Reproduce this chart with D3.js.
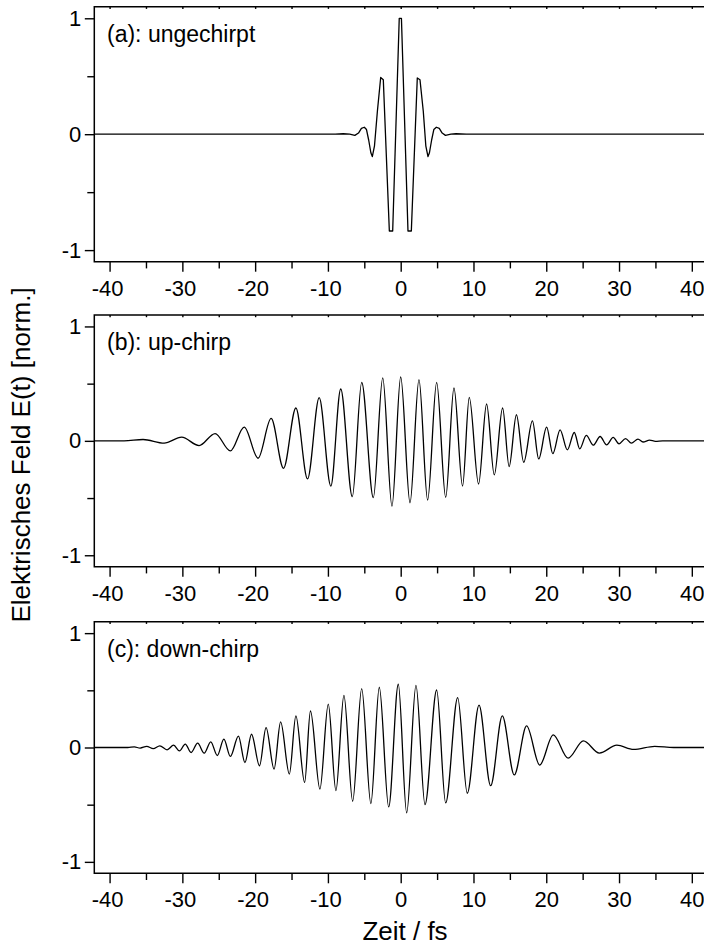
<!DOCTYPE html>
<html><head><meta charset="utf-8">
<script src="https://cdn.jsdelivr.net/npm/d3@7"></script>
<style>
body{margin:0;background:#fff}
svg{display:block}
text{font-family:"Liberation Sans",Arial,Helvetica,sans-serif;fill:#000}
</style>
</head><body>
<svg id="chart" width="704" height="947"></svg>
<script>
// ---------- data ----------
const panelLabels = ["(a): ungechirpt", "(b): up-chirp", "(c): down-chirp"];
const xTickValues = [-40, -30, -20, -10, 0, 10, 20, 30, 40];
const xMinorValues = [-35, -25, -15, -5, 5, 15, 25, 35];
const yTickValues = [-1, 0, 1];
const yMinorValues = [-0.5, 0.5];
const xTitle = "Zeit / fs";
const yTitle = "Elektrisches Feld E(t) [norm.]";

// (a) unchirped pulse: sampled points (fs, norm.)
const tA = [-42.1, -9, -7.9, -7.0, -6.3, -5.8, -5.4, -5.0, -4.7, -4.4, -4.1, -3.9, -3.6, -3.2, -2.75, -2.39, -1.56, -1.1, -0.2, 0.1, 1.0, 1.46, 2.28, 2.65, 3.1, 3.45, 3.75, 3.95, 4.25, 4.55, 4.9, 5.3, 5.7, 6.15, 6.9, 7.6, 9, 42.1];
const eA = [0, 0, 0.004, 0, -0.01, 0.01, 0.05, 0.06, 0.04, -0.05, -0.16, -0.193, -0.1, 0.2, 0.489, 0.469, -0.835, -0.835, 1.0, 1.0, -0.835, -0.835, 0.485, 0.47, 0.2, -0.1, -0.193, -0.16, -0.05, 0.04, 0.06, 0.05, 0.01, -0.01, 0, 0.004, 0, 0];

// (b) up-chirp: extrema (fs, norm.)
const tB = [-42.1, -38, -35.4, -32.5, -30.1, -27.7, -25.5, -23.4, -21.5, -19.6, -17.8, -16.1, -14.4, -12.8, -11.2, -9.6, -8.24, -6.65, -5.36, -3.76, -2.47, -1.2, 0, 1.28, 2.51, 3.7, 4.94, 6.18, 7.32, 8.5, 9.42, 10.7, 11.8, 12.86, 14.0, 14.9, 15.9, 16.9, 18.1, 18.96, 20.05, 20.9, 21.9, 22.9, 23.85, 24.6, 25.5, 26.46, 27.4, 28.3, 29.2, 30.0, 30.9, 31.7, 32.6, 33.3, 34.2, 35.0, 36, 42.1];
const eB = [0, 0, 0.012, -0.02, 0.032, -0.041, 0.064, -0.088, 0.12, -0.152, 0.196, -0.24, 0.287, -0.333, 0.377, -0.395, 0.453, -0.488, 0.511, -0.497, 0.55, -0.57, 0.558, -0.541, 0.535, -0.518, 0.511, -0.494, 0.462, -0.395, 0.38, -0.377, 0.322, -0.298, 0.287, -0.225, 0.228, -0.187, 0.175, -0.158, 0.12, -0.112, 0.096, -0.079, 0.073, -0.07, 0.047, -0.038, 0.038, -0.035, 0.03, -0.026, 0.02, -0.02, 0.015, -0.01, 0.006, -0.004, 0, 0];

// (c) down-chirp: extrema (fs, norm.)
const tC = [-42.1, -37.5, -36.6, -35.8, -34.9, -34.0, -33.1, -32.1, -31.2, -30.4, -29.6, -28.8, -27.9, -27.0, -26.1, -25.2, -24.3, -23.4, -22.3, -21.4, -20.5, -19.4, -18.5, -17.4, -16.5, -15.3, -14.4, -13.2, -12.4, -11.1, -9.95, -8.9, -7.8, -6.6, -5.36, -4.1, -2.94, -1.65, -0.33, 0.82, 2.1, 3.34, 4.94, 6.18, 7.83, 9.15, 10.76, 12.36, 13.96, 15.6, 17.3, 19.1, 20.96, 23.0, 25.1, 27.3, 29.7, 32.0, 34.9, 37.5, 42.1];
const eC = [0, 0, 0.005, -0.005, 0.01, -0.01, 0.015, -0.02, 0.02, -0.03, 0.03, -0.044, 0.038, -0.05, 0.05, -0.07, 0.073, -0.078, 0.1, -0.131, 0.116, -0.16, 0.174, -0.189, 0.224, -0.232, 0.276, -0.305, 0.319, -0.363, 0.38, -0.377, 0.456, -0.47, 0.514, -0.49, 0.527, -0.52, 0.553, -0.572, 0.544, -0.5, 0.503, -0.485, 0.436, -0.4, 0.37, -0.334, 0.276, -0.24, 0.189, -0.154, 0.11, -0.093, 0.058, -0.049, 0.02, -0.017, 0.01, 0, 0];

const seriesT = [tA, tB, tC];
const seriesE = [eA, eB, eC];

// ---------- layout ----------
const W = 704, H = 947;
const plotLeft = 94.3, plotRight = 707.1;
const panelTop = [6.7, 315, 621.7];
const panelBottom = [261.7, 566.7, 873.3];
const curveTypes = [d3.curveLinear, d3.curveMonotoneX, d3.curveMonotoneX];

const svg = d3.select("#chart");
svg.append("rect").attr("width", W).attr("height", H).attr("fill", "#fff");

const x = d3.scaleLinear().domain([-42.1, 42.1]).range([plotLeft, plotRight]);

const FONT = '"Liberation Sans", Arial, Helvetica, sans-serif';

panelLabels.forEach((lab, i) => {
  const y = d3.scaleLinear().domain([-1.1, 1.1]).range([panelBottom[i], panelTop[i]]);
  const g = svg.append("g");

  // curve
  const pts = seriesT[i].map((t, k) => [t, seriesE[i][k]]);
  const line = d3.line().x(d => x(d[0])).y(d => y(d[1])).curve(curveTypes[i]);
  g.append("path").datum(pts).attr("d", line)
    .attr("fill", "none").attr("stroke", "#000").attr("stroke-width", 1.3)
    .attr("stroke-linejoin", "round");

  // frame (left, top, bottom)
  g.append("path")
    .attr("d", `M${plotRight},${panelTop[i]}H${plotLeft}V${panelBottom[i]}H${plotRight}`)
    .attr("fill", "none").attr("stroke", "#000").attr("stroke-width", 1.5);

  // bottom major
  const xb = g.append("g").attr("transform", `translate(0,${panelBottom[i]})`)
    .call(d3.axisBottom(x).tickValues(xTickValues).tickSize(10).tickPadding(8.4).tickFormat(d => String(d)));
  xb.select(".domain").remove();
  xb.attr("font-size", 22).attr("font-family", FONT);
  xb.selectAll("line").attr("stroke-width", 1.4);
  xb.selectAll("text").attr("x", d => d < 0 ? -2.5 : 0);
  // bottom minor
  const xm = g.append("g").attr("transform", `translate(0,${panelBottom[i]})`)
    .call(d3.axisBottom(x).tickValues(xMinorValues).tickSize(6.7).tickFormat(""));
  xm.select(".domain").remove();
  xm.selectAll("line").attr("stroke-width", 1.4);
  // top tiny inward ticks
  const xt = g.append("g").attr("transform", `translate(0,${panelTop[i]})`)
    .call(d3.axisBottom(x).tickValues(xTickValues.concat(xMinorValues)).tickSize(2.2).tickFormat(""));
  xt.select(".domain").remove();
  xt.selectAll("line").attr("stroke-width", 1.4);

  // left major
  const yl = g.append("g").attr("transform", `translate(${plotLeft},0)`)
    .call(d3.axisLeft(y).tickValues(yTickValues).tickSize(9.5).tickPadding(3.5).tickFormat(d => String(d)));
  yl.select(".domain").remove();
  yl.attr("font-size", 22).attr("font-family", FONT);
  yl.selectAll("line").attr("stroke-width", 1.4);
  // left minor
  const ym = g.append("g").attr("transform", `translate(${plotLeft},0)`)
    .call(d3.axisLeft(y).tickValues(yMinorValues).tickSize(7).tickFormat(""));
  ym.select(".domain").remove();
  ym.selectAll("line").attr("stroke-width", 1.4);

  // panel label
  g.append("text").attr("x", 107).attr("y", panelTop[i] + 35)
    .attr("font-size", 23).text(lab);
});

// axis titles
svg.append("text").attr("x", 405).attr("y", 940).attr("text-anchor", "middle")
  .attr("font-size", 26).text(xTitle);
svg.append("text").attr("transform", "translate(29.5,455) rotate(-90)")
  .attr("text-anchor", "middle").attr("font-size", 26).text(yTitle);
</script>
</body></html>
